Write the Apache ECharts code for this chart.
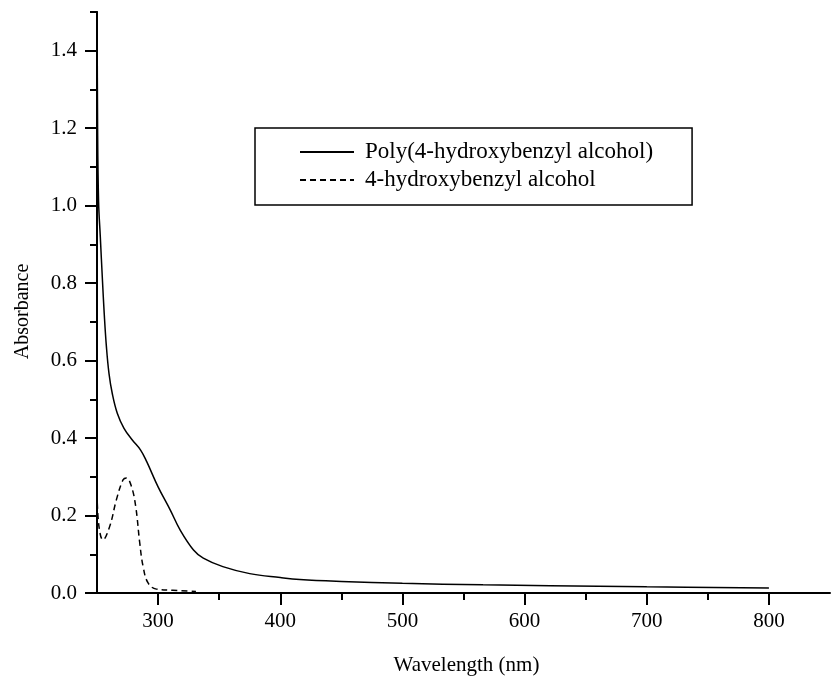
<!DOCTYPE html>
<html>
<head>
<meta charset="utf-8">
<script src="https://cdn.jsdelivr.net/npm/echarts@6/dist/echarts.min.js"></script>
<style>html,body{margin:0;padding:0;background:#fff;}#c{width:835px;height:677px;}</style>
</head>
<body>
<div id="c"></div>
<script>
// Data
const seriesNames = ['Poly(4-hydroxybenzyl alcohol)', '4-hydroxybenzyl alcohol'];
const wlPoly  = [250, 250.5, 251.3, 252.7, 254.5, 255.9, 257.7, 259.8, 262.5, 266.6, 272.1, 278.9, 285.7, 290.7, 300, 310, 318, 329, 337, 353, 375, 400, 416, 450, 500, 566, 621, 700, 800];
const absPoly = [1.6, 1.2, 1.01, 0.92, 0.805, 0.722, 0.636, 0.567, 0.515, 0.464, 0.425, 0.395, 0.369, 0.339, 0.274, 0.214, 0.163, 0.111, 0.09, 0.068, 0.05, 0.04, 0.035, 0.03, 0.025, 0.021, 0.019, 0.016, 0.013];
const wlMono  = [250, 251.6, 254.9, 260.4, 265.9, 271.3, 274.1, 278.2, 281.7, 285, 287.7, 291.8, 298.6, 312, 331];
const absMono = [0.258, 0.172, 0.137, 0.172, 0.241, 0.292, 0.297, 0.275, 0.223, 0.129, 0.069, 0.026, 0.010, 0.007, 0.004];
const xMajorTicks = [300, 400, 500, 600, 700, 800];
const xMinorTicks = [350, 450, 550, 650, 750];
const yMajorTicks = [0, 0.2, 0.4, 0.6, 0.8, 1.0, 1.2, 1.4];
const yMinorTicks = [0.1, 0.3, 0.5, 0.7, 0.9, 1.1, 1.3, 1.5];
const xRange = [250, 850];
const yRange = [0, 1.5];

const FONT = "'Liberation Serif','Times New Roman',serif";
const zip = (a, b) => a.map((v, i) => [v, b[i]]);

const chart = echarts.init(document.getElementById('c'), null, {renderer: 'canvas'});
const axisLine = {show: true, lineStyle: {color: '#000', width: 2}};
chart.setOption({
  backgroundColor: '#fff',
  animation: false,
  grid: {left: 97, right: 5, top: 12, bottom: 84, containLabel: false, outerBoundsMode: 'none'},
  legend: {
    orient: 'vertical',
    left: 255, top: 128,
    padding: [11, 39, 12, 44],
    itemGap: 2,
    itemWidth: 54, itemHeight: 14,
    borderColor: '#000', borderWidth: 1.5,
    itemStyle: {color: 'rgba(0,0,0,0)', borderColor: 'rgba(0,0,0,0)', borderWidth: 0, opacity: 0},
    textStyle: {fontFamily: FONT, fontSize: 23, color: '#000', lineHeight: 26, padding: [0, 0, 0, 6]},
    data: seriesNames
  },
  xAxis: [{
    type: 'value', min: xRange[0], max: xRange[1], position: 'bottom',
    name: 'Wavelength (nm)', nameLocation: 'middle', nameGap: 62,
    nameTextStyle: {fontFamily: FONT, fontSize: 21, color: '#000', padding: [0, 0, 0, 6]},
    axisLine: axisLine,
    axisTick: {show: true, inside: false, length: 12, customValues: xMajorTicks, lineStyle: {color: '#000', width: 2}},
    axisLabel: {customValues: xMajorTicks, margin: 18, fontFamily: FONT, fontSize: 21, color: '#000'},
    splitLine: {show: false}
  }, {
    type: 'value', min: xRange[0], max: xRange[1], position: 'bottom',
    axisLine: {show: false},
    axisTick: {show: true, inside: false, length: 7, customValues: xMinorTicks, lineStyle: {color: '#000', width: 2}},
    axisLabel: {show: false},
    splitLine: {show: false}
  }],
  yAxis: [{
    type: 'value', min: yRange[0], max: yRange[1], position: 'left',
    name: 'Absorbance', nameLocation: 'middle', nameGap: 64,
    nameTextStyle: {fontFamily: FONT, fontSize: 20, color: '#000', padding: [0, 18, 0, 0]},
    axisLine: axisLine,
    axisTick: {show: true, inside: false, length: 12, customValues: yMajorTicks, lineStyle: {color: '#000', width: 2}},
    axisLabel: {customValues: yMajorTicks, margin: 20, fontFamily: FONT, fontSize: 21, color: '#000', formatter: v => v.toFixed(1)},
    splitLine: {show: false}
  }, {
    type: 'value', min: yRange[0], max: yRange[1], position: 'left',
    axisLine: {show: false},
    axisTick: {show: true, inside: false, length: 7, customValues: yMinorTicks, lineStyle: {color: '#000', width: 2}},
    axisLabel: {show: false},
    splitLine: {show: false}
  }],
  series: [{
    name: seriesNames[0], type: 'line', xAxisIndex: 0, yAxisIndex: 0,
    data: zip(wlPoly, absPoly), showSymbol: false, symbol: 'none',
    smooth: 0.4, clip: true,
    lineStyle: {color: '#000', width: 1.5, type: 'solid'},
    itemStyle: {color: '#000'}
  }, {
    name: seriesNames[1], type: 'line', xAxisIndex: 0, yAxisIndex: 0,
    data: zip(wlMono, absMono), showSymbol: false, symbol: 'none',
    smooth: 0.4, clip: true,
    lineStyle: {color: '#000', width: 1.5, type: [6, 4]},
    itemStyle: {color: '#000'}
  }]
});
</script>
</body>
</html>
